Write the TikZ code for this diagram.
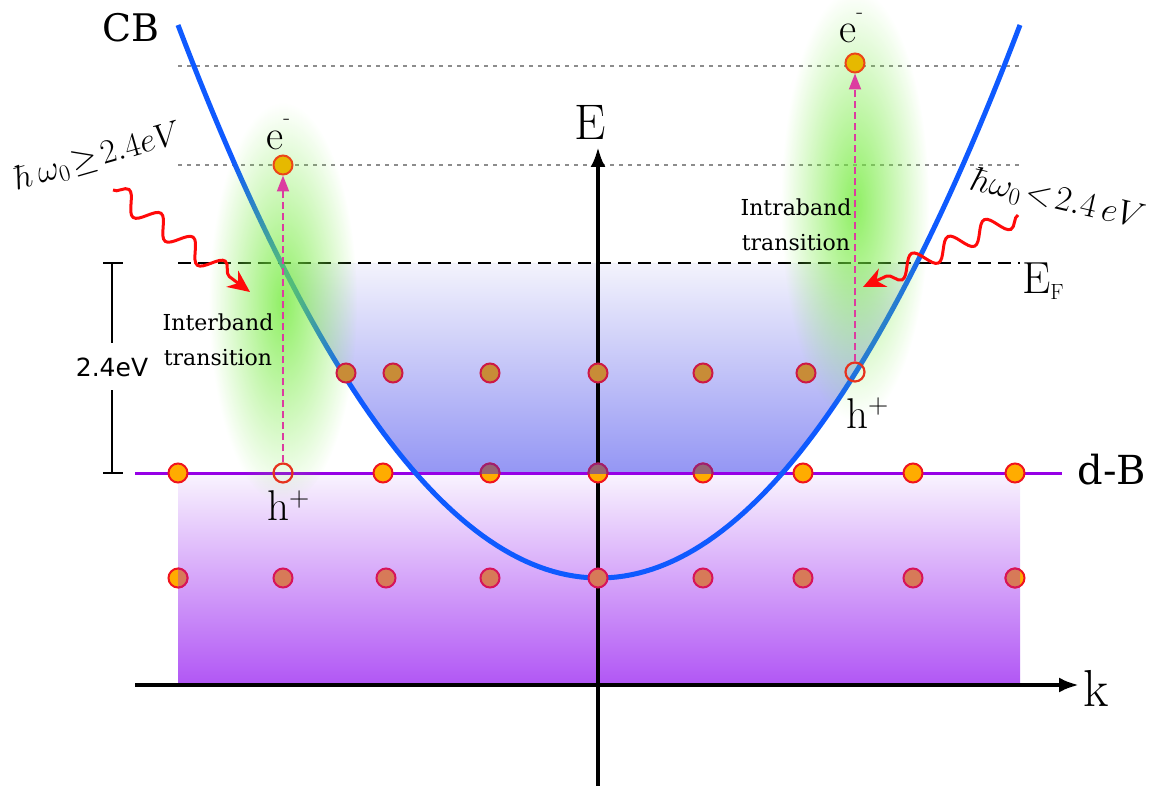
\RequirePackage{fix-cm}
\documentclass[tikz,border=0pt]{standalone}
\usepackage{fontspec}
\newfontfamily\djserif{DejaVu Serif}
\newfontfamily\djsans{DejaVu Sans}
\usetikzlibrary{arrows.meta,decorations.pathmorphing,fadings}

\definecolor{cbblue}{RGB}{15,90,255}
\definecolor{dbandc}{RGB}{150,0,230}
\definecolor{purpTop}{RGB}{249,244,254}
\definecolor{purpMid}{RGB}{224,195,248}
\definecolor{purpBot}{RGB}{178,88,245}
\definecolor{blueTop}{RGB}{243,243,252}
\definecolor{blueBot}{RGB}{148,150,244}
\definecolor{glowc}{RGB}{115,235,60}
\definecolor{dotorange}{RGB}{255,172,0}
\definecolor{dotred}{RGB}{240,20,30}
\definecolor{dotbrown}{RGB}{200,140,55}
\definecolor{dotbred}{RGB}{205,25,70}
\definecolor{dotpurp}{RGB}{215,122,88}
\definecolor{dotpred}{RGB}{215,20,90}
\definecolor{halfb}{RGB}{150,100,115}
\definecolor{halfbred}{RGB}{160,30,110}
\definecolor{elecgold}{RGB}{230,185,0}
\definecolor{elecred}{RGB}{235,70,25}
\definecolor{holered}{RGB}{230,50,30}
\definecolor{transpink}{RGB}{220,60,160}
\definecolor{dotgray}{RGB}{140,140,140}
\definecolor{wavered}{RGB}{255,10,10}

\tikzfading[name=glowfade, inner color=transparent!20, outer color=transparent!100]

\begin{document}
\begin{tikzpicture}[x=1pt,y=-1pt,
  dot/.style={circle, draw=dotred, fill=dotorange, line width=2pt, minimum size=19pt, inner sep=0pt},
  dotb/.style={dot, fill=dotbrown, draw=dotbred},
  dothalf/.style={dot, fill=halfb, draw=halfbred},
  dotp/.style={dot, fill=dotpurp, draw=dotpred},
  hole/.style={circle, draw=holered, line width=2.2pt, minimum size=19pt, inner sep=0pt},
  elec/.style={dot, fill=elecgold, draw=elecred},
  trans/.style={draw=transpink, line width=2pt, dash pattern=on 7pt off 4pt, -{Triangle[length=16pt,width=12pt]}},
  wave/.style={draw=wavered, line width=3pt, decorate, decoration={snake, amplitude=10pt, segment length=40pt, post length=22pt}, -{Stealth[length=22pt,width=20pt]}},
  axis/.style={line width=4pt, -{Latex[length=20pt,width=15pt]}},
  guide/.style={dotgray, line width=1.5pt, dash pattern=on 4pt off 5pt},
  glow/.style={fill=glowc, path fading=glowfade},
  lbl/.style={inner sep=0pt},
  trtext/.style={font=\djserif\fontsize{22}{35}\selectfont, align=center}
]
\useasboundingbox (0,0) rectangle (1161,786);

% d-band region
\shade[top color=purpTop, middle color=purpMid, bottom color=purpBot] (178,473) rectangle (1020,682);
% occupied conduction band region
\shade[top color=blueTop, bottom color=blueBot]
  (281.3,263) -- (916.7,263)
  -- plot[domain=916.7:782.4, samples=30] (\x,{578-31.2*((\x-599)/100)*((\x-599)/100)})
  -- (415.6,473)
  -- plot[domain=415.6:281.3, samples=30] (\x,{578-31.2*((\x-599)/100)*((\x-599)/100)})
  -- cycle;

% guide levels
\draw[guide] (178,66) -- (1020,66);
\draw[guide] (178,165) -- (1020,165);
% Fermi level
\draw[line width=2.8pt, dash pattern=on 13pt off 7pt] (178,263) -- (1020,263);
% d-band line
\draw[dbandc, line width=3pt] (135,473) -- (1062,473);

% bracket 2.4 eV
\draw[line width=2pt] (103,263) -- (123,263) (112,263) -- (112,343) (112,390) -- (112,473) (103,473) -- (123,473);
\node[lbl, font=\djsans\fontsize{25}{25}\selectfont] (gap) at (112,367) {2.4eV};

% axes
\coordinate (kstart) at (135,685);
\coordinate (kend) at (1079,685);
\coordinate (estart) at (598,786);
\coordinate (eend) at (598,147);
\draw[axis] (kstart) -- (kend);
\draw[axis] (estart) -- (eend);

% parabola
\draw[cbblue, line width=5pt] plot[domain=178:1020, samples=120] (\x,{578-31.2*((\x-599)/100)*((\x-599)/100)});

% glows
\fill[glow] (283,303) ellipse [x radius=74, y radius=200];
\fill[glow] (855,205) ellipse [x radius=74, y radius=215];

% conduction electrons below EF
\foreach \x [count=\i] in {346,393,490,598,703,806} \node[dotb] (c\i) at (\x,373) {};
\node[hole] (hr) at (855,372) {};

% d-band row
\foreach \x [count=\i] in {178,383,803,913,1015} \node[dot] (d\i) at (\x,473) {};
\foreach \x [count=\i] in {490,598,703} {
  \node[dot] (dh\i) at (\x,473) {};
  \begin{scope}
    \clip (\x-13,460) rectangle (\x+13,473);
    \node[dothalf] at (\x,473) {};
  \end{scope}
}
\node[hole] (hl) at (283,473) {};

% lower row
\foreach \x [count=\i] in {283,386,490,598,703,803,913} \node[dotp] (p\i) at (\x,578) {};
\node[dot] (pa) at (178,578) {};
\begin{scope}
  \clip (178,565) rectangle (192,591);
  \node[dotp] at (178,578) {};
\end{scope}
\node[dot] (pb) at (1015,578) {};
\begin{scope}
  \clip (1000,565) rectangle (1020,591);
  \node[dotp] at (1015,578) {};
\end{scope}

% excited electrons
\node[elec] (el) at (283,165) {};
\node[elec] (er) at (855,63) {};
\draw[trans] (hl) -- (el);
\draw[trans] (hr) -- (er);

% labels
\node[lbl, font=\djserif\fontsize{38}{40}\selectfont] (cb) at (131,28) {CB};
\node[lbl, font=\fontsize{50}{50}\selectfont] (elab) at (590,122) {E};
\node[lbl, font=\fontsize{52}{52}\selectfont] (klab) at (1096,688) {k};
\node[lbl, font=\djserif\fontsize{40}{40}\selectfont] (db) at (1112,470) {d-B};
\node[lbl, anchor=base west, font=\fontsize{45}{45}\selectfont] (ef) at (1022,293) {E\raisebox{-6pt}{\fontsize{22}{22}\selectfont F}};

\node[lbl, anchor=base west, font=\fontsize{42}{42}\selectfont] (elabl) at (266,150) {e\raisebox{25pt}{\fontsize{22}{22}\selectfont -}};
\node[lbl, anchor=base west, font=\fontsize{42}{42}\selectfont] (elabr) at (839,43) {e\raisebox{24pt}{\fontsize{22}{22}\selectfont -}};
\node[lbl, anchor=base west, font=\fontsize{43}{43}\selectfont] (hlabl) at (267,520) {h\raisebox{14pt}{\fontsize{28}{28}\selectfont +}};
\node[lbl, anchor=base west, font=\fontsize{43}{43}\selectfont] (hlabr) at (846,428) {h\raisebox{15pt}{\fontsize{28}{28}\selectfont +}};

\node[trtext] (inter) at (218,340) {Interband\\transition};
\node[trtext] (intra) at (796,225) {Intraband\\transition};

\node[lbl, rotate=16, font=\fontsize{34}{34}\selectfont] (phl) at (98,157) {$\hbar\,\omega_0\!\geq\!2.4eV$};
\node[lbl, rotate=-13, font=\fontsize{35}{35}\selectfont] (phr) at (1058,200) {$\hbar\omega_0\!<\!2.4\,eV$};

% photons
\coordinate (wl0) at (113,190);
\coordinate (wl1) at (250,292);
\coordinate (wr0) at (1018,215);
\coordinate (wr1) at (863,287);
\draw[wave] (wl0) -- (wl1);
\draw[wave] (wr0) -- (wr1);
\end{tikzpicture}
\end{document}
